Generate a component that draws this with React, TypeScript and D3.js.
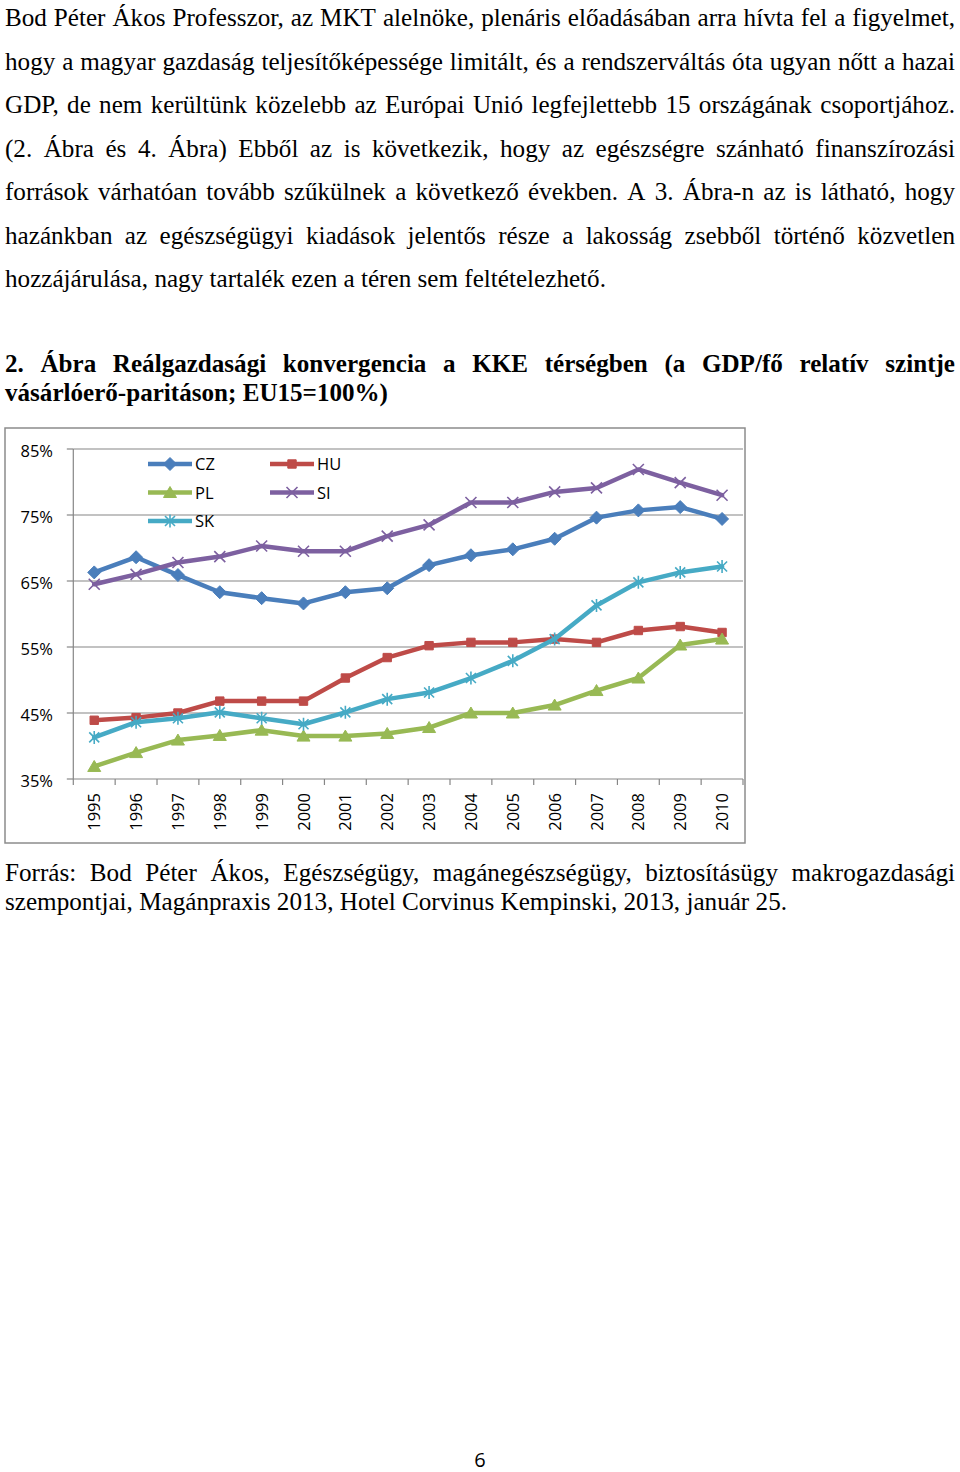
import React from 'react';
import * as d3 from 'd3';

const years = ['1995','1996','1997','1998','1999','2000','2001','2002','2003','2004','2005','2006','2007','2008','2009','2010'];
const CZ = [66.3,68.6,65.9,63.3,62.4,61.6,63.3,63.9,67.4,68.9,69.8,71.4,74.6,75.7,76.2,74.4];
const HU = [43.9,44.3,45.0,46.8,46.8,46.8,50.3,53.4,55.2,55.7,55.7,56.2,55.7,57.5,58.1,57.2];
const PL = [36.9,39.0,40.9,41.6,42.4,41.5,41.5,41.9,42.8,45.0,45.0,46.2,48.4,50.3,55.3,56.2];
const SI = [64.5,66.0,67.8,68.7,70.3,69.5,69.5,71.8,73.5,76.9,76.9,78.5,79.1,81.9,79.9,78.0];
const SK = [41.3,43.6,44.2,45.1,44.2,43.3,45.1,47.1,48.1,50.3,52.9,56.2,61.3,64.8,66.3,67.2];
const seriesNames = ['CZ','HU','PL','SI','SK'];
const seriesValues = [CZ, HU, PL, SI, SK];
const seriesColors = ['#4a7ebb','#be4b48','#98b954','#7d60a0','#46aac5'];
const seriesMarkers = ['diamond','square','triangle','x','star'];
const yTicks = [35,45,55,65,75,85];

const bodyLines = [
  'Bod Péter Ákos Professzor, az MKT alelnöke, plenáris előadásában arra hívta fel a figyelmet,',
  'hogy a magyar gazdaság teljesítőképessége limitált, és a rendszerváltás óta ugyan nőtt a hazai',
  'GDP, de nem kerültünk közelebb az Európai Unió legfejlettebb 15 országának csoportjához.',
  '(2. Ábra és 4. Ábra) Ebből az is következik, hogy az egészségre szánható finanszírozási',
  'források várhatóan tovább szűkülnek a következő években. A 3. Ábra-n az is látható, hogy',
  'hazánkban az egészségügyi kiadások jelentős része a lakosság zsebből történő közvetlen',
  'hozzájárulása, nagy tartalék ezen a téren sem feltételezhető.',
];
const titleLines = [
  '2. Ábra Reálgazdasági konvergencia a KKE térségben (a GDP/fő relatív szintje',
  'vásárlóerő-paritáson; EU15=100%)',
];
const sourceLines = [
  'Forrás: Bod Péter Ákos, Egészségügy, magánegészségügy, biztosításügy makrogazdasági',
  'szempontjai, Magánpraxis 2013, Hotel Corvinus Kempinski, 2013, január 25.',
];
const pageNumber = '6';

let ctx: CanvasRenderingContext2D | null = null;
function measure(text: string, font: string): number {
  if (!ctx) ctx = document.createElement('canvas').getContext('2d');
  if (!ctx) return text.length * 10;
  ctx.font = font;
  return ctx.measureText(text).width;
}

const SERIF = '"Liberation Serif", "Times New Roman", serif';
const SANS = '"Open Sans", sans-serif';

function TextBlock(props: { lines: string[]; x: number; width: number; baselines: number[]; size: number; weight: string; refWidth: number; keyp: string }) {
  const { lines, x, width, baselines, size, weight, refWidth, keyp } = props;
  const font = `${weight} ${size}px "Liberation Serif"`;
  const last = lines[lines.length - 1];
  const hScale = refWidth / measure(last, font);
  const out: React.ReactNode[] = [];
  lines.forEach((line, i) => {
    const words = line.split(' ');
    const ws = words.map(w => measure(w, font) * hScale);
    const isLast = i === lines.length - 1;
    const total = ws.reduce((a, b) => a + b, 0);
    const gap = isLast ? measure(' ', font) * hScale : (width - total) / (words.length - 1);
    let cx = x;
    words.forEach((w, j) => {
      out.push(
        <text key={`${keyp}-${i}-${j}`} transform={`translate(${cx},${baselines[i]}) scale(${hScale},1)`}
          fontFamily={SERIF} fontSize={size} fontWeight={weight} fill="#000">{w}</text>
      );
      cx += ws[j] + gap;
    });
  });
  return <g>{out}</g>;
}

function markerPath(kind: string): string {
  switch (kind) {
    case 'diamond': return 'M0,-6.5L6.5,0L0,6.5L-6.5,0Z';
    case 'square': return 'M-4.2,-4.2H4.2V4.2H-4.2Z';
    case 'triangle': return 'M0,-6L6.5,5L-6.5,5Z';
    case 'x': return 'M-5.5,-5.5L5.5,5.5M-5.5,5.5L5.5,-5.5';
    case 'star': return 'M-5,-5L5,5M-5,5L5,-5M0,-6.5L0,6.5';
    default: return '';
  }
}

function Marker(props: { kind: string; x: number; y: number; color: string }) {
  const { kind, x, y, color } = props;
  const stroked = kind === 'x' || kind === 'star';
  return (
    <path d={markerPath(kind)} transform={`translate(${x},${y})`}
      fill={stroked ? 'none' : color} stroke={color} strokeWidth={stroked ? 1.6 : 1} />
  );
}

function Chart() {
  const x = d3.scaleBand<string>().domain(years).range([73.3, 743]).padding(0);
  const y = d3.scaleLinear().domain([35, 85]).range([779, 449]);
  const bw = x.bandwidth();
  const cxOf = (yr: string) => (x(yr) as number) + bw / 2;
  const line = d3.line<number>().x((_, i) => cxOf(years[i])).y(d => y(d));
  const [x0, x1] = x.range();
  const [yb, yt] = y.range();
  const legendPos = [
    { lx: 148, ly: 464 }, { lx: 270, ly: 464 },
    { lx: 148, ly: 492.5 }, { lx: 270, ly: 492.5 },
    { lx: 148, ly: 521 },
  ];
  return (
    <g>
      <rect x={5} y={428} width={740} height={415} fill="#fff" stroke="#8c8c8c" strokeWidth={1.5} />
      {yTicks.map(t => (
        <g key={`g${t}`}>
          {t > 35 && <line x1={x0} x2={x1} y1={y(t)} y2={y(t)} stroke="#868686" strokeWidth={1.2} />}
          <line x1={x0 - 6.5} x2={x0} y1={y(t)} y2={y(t)} stroke="#868686" strokeWidth={1.2} />
          <text x={53} y={y(t) + 8} textAnchor="end" fontFamily={SANS} fontSize={16.5} fill="#000">{`${t}%`}</text>
        </g>
      ))}
      <line x1={x0} x2={x0} y1={yb} y2={yt} stroke="#868686" strokeWidth={1.2} />
      <line x1={x0} x2={x1} y1={yb} y2={yb} stroke="#868686" strokeWidth={1.2} />
      {years.map(yr => (
        <line key={`t${yr}`} x1={(x(yr) as number)} x2={(x(yr) as number)} y1={yb} y2={yb + 6} stroke="#868686" strokeWidth={1.2} />
      ))}
      <line x1={x1} x2={x1} y1={yb} y2={yb + 6} stroke="#868686" strokeWidth={1.2} />
      {years.map(yr => (
        <text key={`l${yr}`} transform={`translate(${cxOf(yr) + 6},793) rotate(-90)`} textAnchor="end"
          fontFamily={SANS} fontSize={16.5} fill="#000">{yr}</text>
      ))}
      {seriesValues.map((vals, si) => (
        <g key={seriesNames[si]}>
          <path d={line(vals) || ''} fill="none" stroke={seriesColors[si]} strokeWidth={4.5} strokeLinejoin="round" strokeLinecap="round" />
          {vals.map((v, i) => (
            <Marker key={i} kind={seriesMarkers[si]} x={cxOf(years[i])} y={y(v)} color={seriesColors[si]} />
          ))}
        </g>
      ))}
      {seriesNames.map((n, si) => {
        const p = legendPos[si];
        return (
          <g key={`lg${n}`}>
            <line x1={p.lx} x2={p.lx + 44} y1={p.ly} y2={p.ly} stroke={seriesColors[si]} strokeWidth={4.5} />
            <Marker kind={seriesMarkers[si]} x={p.lx + 22} y={p.ly} color={seriesColors[si]} />
            <text x={p.lx + 47} y={p.ly + 6} fontFamily={SANS} fontSize={16.5} fill="#000">{n}</text>
          </g>
        );
      })}
    </g>
  );
}

export default function App() {
  const bodyBase = bodyLines.map((_, i) => 26 + i * 43.5);
  return (
    <svg width={960} height={1472} style={{ position: 'absolute', left: 0, top: 0, background: '#fff' }}>
      <rect x={0} y={0} width={960} height={1472} fill="#fff" />
      <TextBlock keyp="b" lines={bodyLines} x={5} width={950} baselines={bodyBase} size={25.5} weight="normal" refWidth={601} />
      <TextBlock keyp="t" lines={titleLines} x={5} width={950} baselines={[372, 401]} size={26} weight="bold" refWidth={383} />
      <Chart />
      <TextBlock keyp="s" lines={sourceLines} x={5} width={950} baselines={[881, 910]} size={25} weight="normal" refWidth={782} />
      <text x={480} y={1467} textAnchor="middle" fontFamily={SANS} fontSize={20} fill="#000">{pageNumber}</text>
    </svg>
  );
}
